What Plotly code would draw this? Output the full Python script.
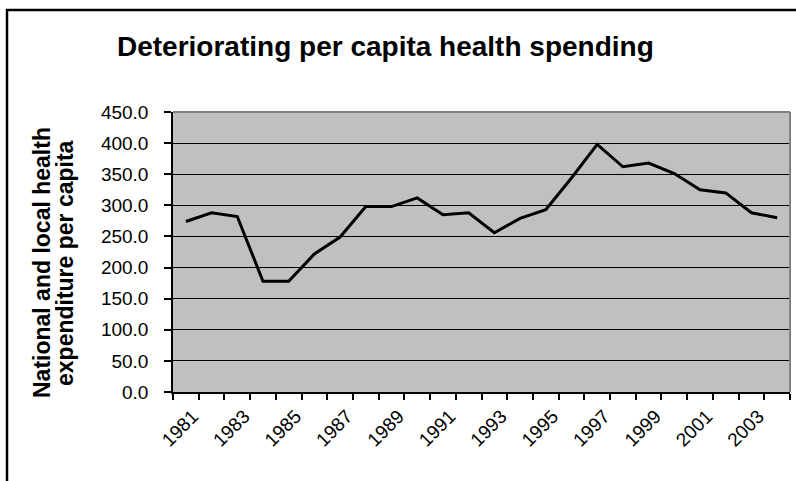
import plotly.graph_objects as go

# Per capita health expenditure, national and local, by year
years = list(range(1981, 2005))
spending = [274, 288, 282, 178, 178, 222, 249, 298, 298, 312, 285, 288,
            256, 279, 293, 344, 398, 362, 368, 351, 325, 320, 288, 280]
label_years = years[::2]
label_text = [str(y) for y in label_years]
y_title_lines = ["National and local health", "expenditure per capita"]

W, H = 796, 481
ML, MR, MT, MB = 173, 6, 112, 89
PW, PH = W - ML - MR, H - MT - MB


def px_x(px):
    return (px - ML) / PW


def px_y(py):
    return (H - MB - py) / PH


FONT = "Liberation Sans, Arial, sans-serif"

fig = go.Figure()
fig.add_trace(go.Scatter(
    x=years, y=spending, mode="lines",
    line=dict(color="black", width=3),
    showlegend=False, hoverinfo="x+y",
))

boundaries = [y - 0.5 for y in years] + [years[-1] + 0.5]

fig.update_layout(
    width=W, height=H,
    margin=dict(l=ML, r=MR, t=MT, b=MB),
    paper_bgcolor="white",
    plot_bgcolor="#C0C0C0",
    font=dict(family=FONT, color="black", size=19),
    xaxis=dict(
        range=[years[0] - 0.5, years[-1] + 0.5],
        tickmode="array", tickvals=label_years, ticktext=label_text,
        tickangle=-45, ticks="", showgrid=False, zeroline=False,
        showline=True, linecolor="black", linewidth=1.5,
        tickfont=dict(size=19), ticklabelstandoff=4, ticklabelshift=7,
        minor=dict(tickmode="array", tickvals=boundaries, ticks="outside",
                   ticklen=6, tickcolor="black", tickwidth=1.5, showgrid=False),
    ),
    yaxis=dict(
        range=[0, 450], dtick=50, tick0=0, tickformat=".1f",
        ticks="outside", ticklen=7, tickcolor="black", tickwidth=1.5,
        showgrid=True, gridcolor="black", gridwidth=1,
        zeroline=False, showline=True, linecolor="black", linewidth=1.5,
        tickfont=dict(size=19), ticklabelstandoff=12,
    ),
    shapes=[
        # plot area frame (top and right edges)
        dict(type="line", xref="paper", yref="paper", x0=0, x1=1, y0=1, y1=1,
             line=dict(color="#808080", width=2), layer="above"),
        dict(type="line", xref="paper", yref="paper", x0=1, x1=1, y0=0, y1=1,
             line=dict(color="#808080", width=2), layer="above"),
        # chart frame
        dict(type="rect", xref="paper", yref="paper",
             x0=px_x(7), x1=px_x(W + 20), y0=px_y(H + 20), y1=px_y(10),
             line=dict(color="black", width=2.5), fillcolor="rgba(0,0,0,0)"),
    ],
    annotations=[
        dict(text="<b>Deteriorating per capita health spending</b>",
             xref="paper", yref="paper", x=px_x(385), y=px_y(47),
             xanchor="center", yanchor="middle", showarrow=False,
             font=dict(size=28, family=FONT)),
    ] + [
        dict(text="<b>" + line + "</b>",
             xref="paper", yref="paper", x=px_x(xc), y=px_y(263),
             xanchor="center", yanchor="middle", showarrow=False,
             textangle=-90, font=dict(size=23, family=FONT))
        for line, xc in zip(y_title_lines, [42, 65])
    ],
)

fig.write_html("out.html")
